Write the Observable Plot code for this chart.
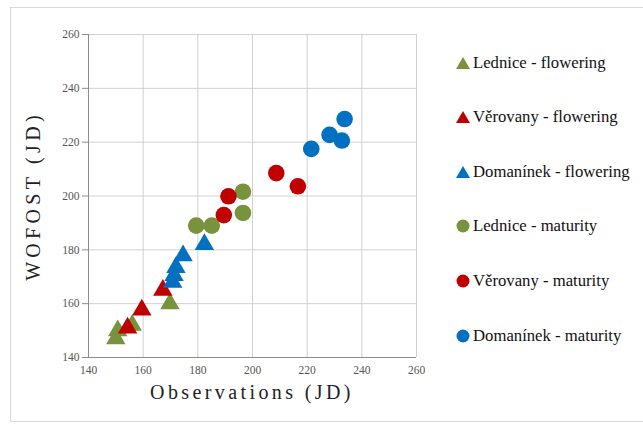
<!DOCTYPE html>
<html><head><meta charset="utf-8">
<script src="https://cdn.jsdelivr.net/npm/d3@7"></script>
<script src="https://cdn.jsdelivr.net/npm/@observablehq/plot@0.6"></script>
<style>
body{margin:0;background:#fff;}
#wrap{position:relative;width:643px;height:425px;overflow:hidden;font-family:'Liberation Serif','Times New Roman',serif;}
#border{position:absolute;left:10px;top:7px;width:640px;height:415px;border:1px solid #d9d9d9;box-sizing:border-box;}
#chart{position:absolute;left:0;top:0;}
#legend{position:absolute;left:0;top:0;}
.li{position:absolute;display:flex;align-items:center;font-family:'Liberation Serif','Times New Roman',serif;font-size:16.7px;color:#111;white-space:nowrap;}
.li svg{margin-right:2px;}
</style>
</head><body>
<div id="wrap"><div id="border"></div><div id="chart"></div><div id="legend"></div></div>
<script>
const sites = ["Lednice", "Věrovany", "Domanínek"];
const siteColors = ["#77933C", "#C00000", "#0070C0"];
const stages = ["flowering", "maturity"];
const ticks = [140, 160, 180, 200, 220, 240, 260];

const ledniceFloweringObs = [150, 150.7, 156, 169.8];
const ledniceFloweringSim = [147, 150, 152, 160];
const verovanyFloweringObs = [154.3, 159.5, 167.2];
const verovanyFloweringSim = [151, 157.7, 165];
const domaninekFloweringObs = [170.8, 171.3, 172, 174.6, 182.4];
const domaninekFloweringSim = [168, 170.5, 173.5, 177.8, 182];
const ledniceMaturityObs = [179.4, 185.1, 196.5, 196.5];
const ledniceMaturitySim = [189, 189, 193.7, 201.6];
const verovanyMaturityObs = [189.5, 191.2, 208.7, 216.6];
const verovanyMaturitySim = [192.9, 199.9, 208.5, 203.6];
const domaninekMaturityObs = [221.5, 228.2, 232.7, 233.7];
const domaninekMaturitySim = [217.5, 222.7, 220.6, 228.6];

const seriesList = [
  {site: "Lednice", stage: "flowering", obs: ledniceFloweringObs, sim: ledniceFloweringSim},
  {site: "Věrovany", stage: "flowering", obs: verovanyFloweringObs, sim: verovanyFloweringSim},
  {site: "Domanínek", stage: "flowering", obs: domaninekFloweringObs, sim: domaninekFloweringSim},
  {site: "Lednice", stage: "maturity", obs: ledniceMaturityObs, sim: ledniceMaturitySim},
  {site: "Věrovany", stage: "maturity", obs: verovanyMaturityObs, sim: verovanyMaturitySim},
  {site: "Domanínek", stage: "maturity", obs: domaninekMaturityObs, sim: domaninekMaturitySim}
];

const marks = [
  Plot.gridX(ticks, {stroke: "#d0d0d0", strokeOpacity: 1}),
  Plot.gridY(ticks, {stroke: "#d0d0d0", strokeOpacity: 1}),
  Plot.ruleX([140], {stroke: "#8c8c8c"}),
  Plot.ruleY([140], {stroke: "#8c8c8c"}),
  Plot.axisY({ticks, tickSize: 6, tickPadding: 3, fontSize: 11.5, color: "#555", stroke: "#8c8c8c", label: null}),
  Plot.axisX({ticks, tickSize: 0, tickPadding: 8, fontSize: 11.5, color: "#555", label: null})
];
for (const s of seriesList) {
  const data = s.obs.map((o, i) => ({site: s.site, obs: o, sim: s.sim[i]}));
  marks.push(Plot.dot(data, {
    x: "obs", y: "sim", fill: "site", stroke: "none",
    symbol: s.stage === "flowering" ? "triangle" : "circle",
    r: s.stage === "flowering" ? 7.2 : 8.3
  }));
}

const plot = Plot.plot({
  width: 643, height: 425,
  marginLeft: 88, marginRight: 227, marginTop: 34, marginBottom: 68,
  style: {fontFamily: "'Liberation Serif','Times New Roman',serif", background: "transparent"},
  x: {domain: [140, 260]},
  y: {domain: [140, 260]},
  color: {domain: sites, range: siteColors},
  marks
});
plot.setAttribute("font-family", "'Liberation Serif','Times New Roman',serif");
document.getElementById("chart").appendChild(plot);

// axis titles
const svg = d3.select(plot);
svg.append("text").attr("x", 252).attr("y", 399).attr("text-anchor", "middle")
  .attr("font-family", "'Liberation Serif','Times New Roman',serif")
  .style("font-size", "20px").style("letter-spacing", "3.4px").attr("fill", "#222")
  .text("Observations (JD)");
svg.append("text").attr("transform", "translate(40,196) rotate(-90)").attr("text-anchor", "middle")
  .attr("font-family", "'Liberation Serif','Times New Roman',serif")
  .style("font-size", "20px").style("letter-spacing", "4.3px").attr("fill", "#222")
  .text("WOFOST (JD)");

// legend
const legend = document.getElementById("legend");
seriesList.forEach((s, i) => {
  const color = siteColors[sites.indexOf(s.site)];
  const div = document.createElement("div");
  div.className = "li";
  div.style.left = "455px";
  div.style.top = (52.5 + i * 54.6) + "px";
  const shape = s.stage === "flowering"
    ? `<polygon points="8,2 15,14 1,14" fill="${color}"/>`
    : `<circle cx="8" cy="8" r="6.5" fill="${color}"/>`;
  div.innerHTML = `<svg width="16" height="16">${shape}</svg><span>${s.site} - ${s.stage}</span>`;
  legend.appendChild(div);
});
</script>
</body></html>
